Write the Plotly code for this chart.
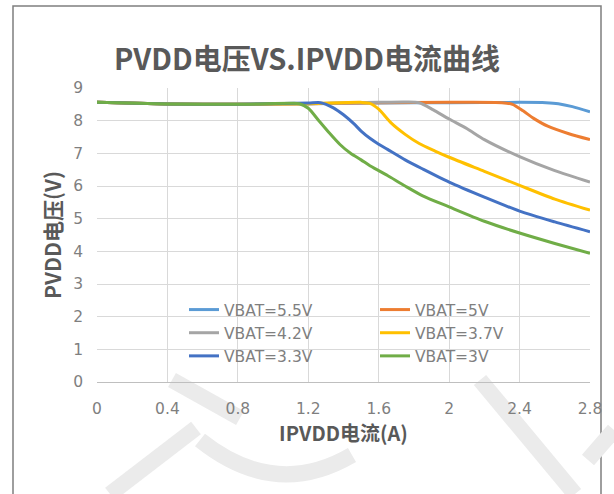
import plotly.graph_objects as go

# ---- data ----
series_names = ["VBAT=5.5V", "VBAT=5V", "VBAT=4.2V", "VBAT=3.7V", "VBAT=3.3V", "VBAT=3V"]
series_colors = ["#5B9BD5", "#ED7D31", "#A5A5A5", "#FFC000", "#4472C4", "#70AD47"]

x_55 = [0, 0.4, 0.8, 1.2, 1.6, 2.0, 2.4, 2.55, 2.62, 2.7, 2.8]
y_55 = [8.56, 8.51, 8.5, 8.52, 8.54, 8.55, 8.56, 8.55, 8.52, 8.43, 8.27]

x_50 = [0, 0.4, 0.8, 1.2, 1.6, 2.0, 2.3, 2.36, 2.42, 2.48, 2.56, 2.68, 2.8]
y_50 = [8.56, 8.51, 8.5, 8.52, 8.55, 8.56, 8.55, 8.5, 8.3, 8.07, 7.83, 7.6, 7.42]

x_42 = [0, 0.4, 0.8, 1.2, 1.6, 1.75, 1.83, 1.91, 2.0, 2.1, 2.2, 2.4, 2.6, 2.8]
y_42 = [8.56, 8.51, 8.5, 8.52, 8.56, 8.57, 8.55, 8.33, 8.05, 7.76, 7.42, 6.9, 6.47, 6.12]

x_37 = [0, 0.4, 0.8, 1.2, 1.5, 1.55, 1.6, 1.67, 1.75, 1.83, 1.92, 2.0, 2.2, 2.4, 2.6, 2.8]
y_37 = [8.56, 8.51, 8.5, 8.52, 8.56, 8.53, 8.35, 7.93, 7.58, 7.3, 7.07, 6.88, 6.45, 6.02, 5.6, 5.26]

x_33 = [0, 0.4, 0.8, 1.2, 1.27, 1.34, 1.4, 1.46, 1.5, 1.55, 1.6, 1.65, 1.75, 1.85, 2.0, 2.2, 2.4, 2.6, 2.8]
y_33 = [8.56, 8.51, 8.5, 8.54, 8.55, 8.4, 8.18, 7.9, 7.68, 7.46, 7.28, 7.12, 6.8, 6.52, 6.12, 5.66, 5.23, 4.9, 4.6]

x_30 = [0, 0.4, 0.8, 1.1, 1.15, 1.2, 1.26, 1.32, 1.38, 1.44, 1.5, 1.55, 1.6, 1.65, 1.75, 1.85, 2.0, 2.2, 2.4, 2.6, 2.8]
y_30 = [8.56, 8.51, 8.5, 8.53, 8.52, 8.38, 8.0, 7.62, 7.27, 7.0, 6.8, 6.62, 6.47, 6.32, 6.0, 5.7, 5.36, 4.92, 4.56, 4.24, 3.94]

series_x = [x_55, x_50, x_42, x_37, x_33, x_30]
series_y = [y_55, y_50, y_42, y_37, y_33, y_30]

x_ticks = [0, 0.4, 0.8, 1.2, 1.6, 2.0, 2.4, 2.8]
x_ticktext = ["0", "0.4", "0.8", "1.2", "1.6", "2", "2.4", "2.8"]
y_ticks = [0, 1, 2, 3, 4, 5, 6, 7, 8, 9]

title_text = "PVDD电压VS.IPVDD电流曲线"
x_title = "IPVDD电流(A)"
y_title = "PVDD电压(V)"

# ---- figure ----
fig = go.Figure()
for name, color, xs, ys in zip(series_names, series_colors, series_x, series_y):
    fig.add_trace(go.Scatter(
        x=xs, y=ys, mode="lines", name=name,
        line=dict(color=color, width=3, shape="spline", smoothing=0.7),
    ))

cjk = "Noto Sans CJK SC"
latin = "DejaVu Sans"
W, H = 614, 494
L, R, T, B = 97, 24, 88, 112
pw, ph = W - L - R, H - T - B

def px_to_paper_x(px):
    return (px - L) / pw

def px_to_paper_y(py):
    return (H - B - py) / ph

fig.update_layout(
    width=W, height=H,
    margin=dict(l=L, r=R, t=T, b=B, autoexpand=False),
    paper_bgcolor="white", plot_bgcolor="white",
    title=dict(text=title_text, x=0.5, xref="container", xanchor="center",
               y=1 - 60 / H, yref="container", yanchor="middle",
               font=dict(family=cjk, size=29, color="#595959", weight="bold")),
    xaxis=dict(range=[0, 2.8], tickvals=x_ticks, ticktext=x_ticktext,
               showgrid=True, gridcolor="#D9D9D9", gridwidth=1,
               zeroline=False, showline=True, linecolor="#BFBFBF", linewidth=1,
               ticks="", ticklabelstandoff=12,
               tickfont=dict(family=latin, size=15.5, color="#7F7F7F"),
               title=dict(text=x_title, standoff=3,
                          font=dict(family=cjk, size=20, color="#595959", weight="bold"))),
    yaxis=dict(range=[0, 9], tickvals=y_ticks,
               showgrid=True, gridcolor="#D9D9D9", gridwidth=1,
               zeroline=False, showline=False,
               ticks="", ticklabelstandoff=13,
               tickfont=dict(family=latin, size=15.5, color="#7F7F7F"),
               title=dict(text=y_title, standoff=5,
                          font=dict(family=cjk, size=21, color="#595959", weight="bold"))),
    legend=dict(orientation="h", x=px_to_paper_x(184), xanchor="left",
                y=px_to_paper_y(293), yanchor="top",
                entrywidth=146, entrywidthmode="pixels",
                bgcolor="rgba(0,0,0,0)", tracegroupgap=0,
                font=dict(family=latin, size=15.5, color="#7F7F7F")),
    showlegend=True,
)

# outer chart frame
fig.add_shape(type="rect", xref="paper", yref="paper",
              x0=px_to_paper_x(13), x1=px_to_paper_x(601),
              y0=px_to_paper_y(520), y1=px_to_paper_y(6),
              line=dict(color="#7F7F7F", width=1.5), fillcolor="rgba(0,0,0,0)",
              layer="below")

# faint watermark strokes (decoration in the reference image)
wm_strokes = [
    ((172, 380), (240, 418)),
    ((110, 494), (196, 428)),
    ((480, 380), (575, 494)),
    ((588, 460), (614, 430)),
]
for (ax, ay), (bx, by) in wm_strokes:
    fig.add_shape(type="line", xref="paper", yref="paper",
                  x0=px_to_paper_x(ax), y0=px_to_paper_y(ay),
                  x1=px_to_paper_x(bx), y1=px_to_paper_y(by),
                  line=dict(color="#EBEBEB", width=16), layer="below")
fig.add_shape(type="path", xref="paper", yref="paper",
              path="M {:.4f},{:.4f} Q {:.4f},{:.4f} {:.4f},{:.4f}".format(
                  px_to_paper_x(200), px_to_paper_y(440),
                  px_to_paper_x(275), px_to_paper_y(500),
                  px_to_paper_x(352), px_to_paper_y(455)),
              line=dict(color="#EBEBEB", width=16), layer="below")

fig.write_html("out.html", config={"displayModeBar": False},
               post_script="document.body.style.margin='0';")
